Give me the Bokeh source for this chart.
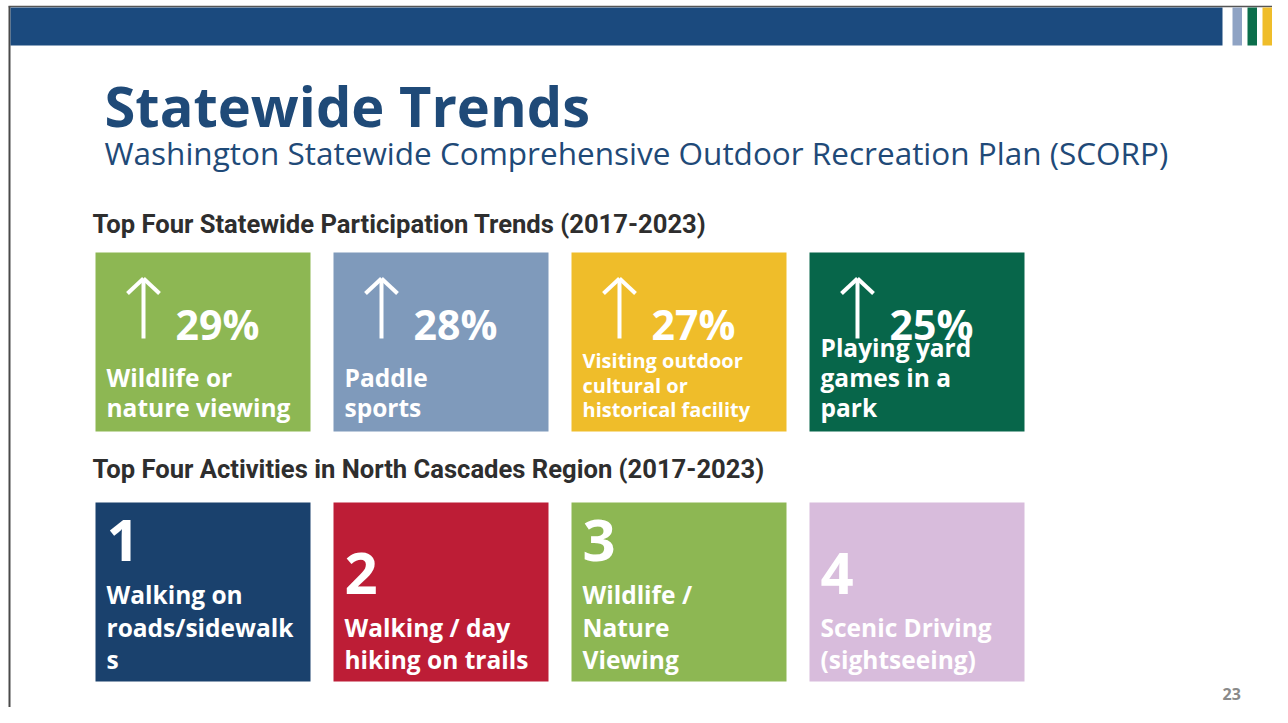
from bokeh.plotting import figure
from bokeh.models import Range1d, ColumnDataSource
from bokeh.core.properties import value
from bokeh.embed import file_html
from bokeh.resources import INLINE

# ---------------- data ----------------
title_text = "Statewide Trends"
subtitle_text = "Washington Statewide Comprehensive Outdoor Recreation Plan (SCORP)"
heading_trends = "Top Four Statewide Participation Trends (2017-2023)"
heading_activities = "Top Four Activities in North Cascades Region (2017-2023)"
page_number = "23"

trend_pcts = ["29%", "28%", "27%", "25%"]
trend_labels = [
    ["Wildlife or", "nature viewing"],
    ["Paddle", "sports"],
    ["Visiting outdoor", "cultural or", "historical facility"],
    ["Playing yard", "games in a", "park"],
]
trend_colors = ["#8db753", "#7f9abb", "#efbd2a", "#07664a"]

activity_ranks = ["1", "2", "3", "4"]
activity_labels = [
    ["Walking on", "roads/sidewalk", "s"],
    ["Walking / day", "hiking on trails"],
    ["Wildlife /", "Nature", "Viewing"],
    ["Scenic Driving", "(sightseeing)"],
]
activity_colors = ["#1a416d", "#bd1d36", "#8db753", "#d8bcdc"]

accent_colors = ["#8fa3c4", "#0b6e4b", "#efbd2a"]

# ---------------- styles / layout ----------------
W, H = 1272, 707
FONT = "Open Sans"
NAVY = "#1f4a78"

TILE_LEFT0, TILE_STEP, TILE_W = 95, 238, 215
ROW1_TOP, ROW1_BOT = 252, 431
ROW2_TOP, ROW2_BOT = 502, 681

trend_label_size = [24.5, 24.5, 20, 24.5]
trend_label_step = [30, 30, 24.5, 30]
activity_label_size = 24.5
activity_label_step = 32.5


def base(y, size, k=0.39):
    """convert a desired alphabetic baseline to the anchor used by the renderer"""
    return y - k * size


p = figure(width=W, height=H, x_range=Range1d(0, W), y_range=Range1d(H, 0),
           x_axis_type=None, y_axis_type=None, output_backend="svg", toolbar_location=None,
           min_border=0, outline_line_color=None)
p.grid.visible = False
p.background_fill_color = "white"
p.border_fill_color = "white"

# slide frame lines
p.segment(x0=[8], y0=[6], x1=[W], y1=[6], line_color="#555555", line_width=1.5)
p.segment(x0=[9], y0=[6], x1=[9], y1=[H], line_color="#4a4a4a", line_width=2)

# header bar and accent stripes
p.quad(left=[10], right=[1222], top=[7], bottom=[45], fill_color="#1b4a7e", line_color=None)
stripe_left = [1232, 1247, 1262]
p.quad(left=stripe_left, right=[s + 9.5 for s in stripe_left], top=[7] * 3, bottom=[45] * 3,
       fill_color=accent_colors, line_color=None)

# titles
p.text(x=[104], y=[base(126, 56)], text=[title_text], text_font=value(FONT), text_font_style="bold",
       text_font_size="56px", text_color=NAVY, text_baseline="alphabetic")
p.text(x=[104], y=[base(164, 31.5)], text=[subtitle_text], text_font=value(FONT),
       text_font_size="31.5px", text_color=NAVY, text_baseline="alphabetic")
p.text(x=[92], y=[base(232, 25.6, 0.32)], text=[heading_trends], text_font=value("Roboto"),
       text_font_style="bold", text_font_size="25.6px", text_color="#2e2e2e", text_baseline="alphabetic")
p.text(x=[92], y=[base(477, 25.6, 0.32)], text=[heading_activities], text_font=value("Roboto"),
       text_font_style="bold", text_font_size="25.6px", text_color="#2e2e2e", text_baseline="alphabetic")
p.text(x=[1222], y=[base(700, 16)], text=[page_number], text_font=value(FONT), text_font_style="bold",
       text_font_size="16px", text_color="#8a8a8a", text_baseline="alphabetic")

# ---------------- row 1: trends ----------------
lefts = [TILE_LEFT0 + i * TILE_STEP for i in range(len(trend_pcts))]
p.quad(left=lefts, right=[l + TILE_W for l in lefts], top=[ROW1_TOP] * 4, bottom=[ROW1_BOT] * 4,
       fill_color=trend_colors, line_color=None)

# arrows
ax = [l + 48 for l in lefts]
p.segment(x0=ax, y0=[279] * 4, x1=ax, y1=[338] * 4, line_color="white", line_width=4)
p.segment(x0=ax, y0=[278] * 4, x1=[a - 16 for a in ax], y1=[293] * 4, line_color="white", line_width=4)
p.segment(x0=ax, y0=[278] * 4, x1=[a + 16 for a in ax], y1=[293] * 4, line_color="white", line_width=4)

p.text(x=[l + 80 for l in lefts], y=[base(339, 41)] * 4, text=trend_pcts, text_font=value(FONT),
       text_font_style="bold", text_font_size="41px", text_color="white", text_baseline="alphabetic")

for i, lines in enumerate(trend_labels):
    n = len(lines)
    ys = [base(417 - (n - 1 - k) * trend_label_step[i], trend_label_size[i]) for k in range(n)]
    src = ColumnDataSource(dict(x=[lefts[i] + 11] * n, y=ys, t=lines))
    p.text(x="x", y="y", text="t", source=src, text_font=value(FONT), text_font_style="bold",
           text_font_size=f"{trend_label_size[i]}px", text_color="white", text_baseline="alphabetic")

# ---------------- row 2: activities ----------------
p.quad(left=lefts, right=[l + TILE_W for l in lefts], top=[ROW2_TOP] * 4, bottom=[ROW2_BOT] * 4,
       fill_color=activity_colors, line_color=None)

rank_x, rank_y = [], []
for i, lines in enumerate(activity_labels):
    n = len(lines)
    bl = [669 - (n - 1 - k) * activity_label_step for k in range(n)]
    rank_x.append(lefts[i] + 11)
    rank_y.append(base(bl[0] - 41, 58))
    src = ColumnDataSource(dict(x=[lefts[i] + 11] * n, y=[base(b, activity_label_size) for b in bl], t=lines))
    p.text(x="x", y="y", text="t", source=src, text_font=value(FONT), text_font_style="bold",
           text_font_size=f"{activity_label_size}px", text_color="white", text_baseline="alphabetic")

p.text(x=rank_x, y=rank_y, text=activity_ranks, text_font=value(FONT), text_font_style="bold",
       text_font_size="58px", text_color="white", text_baseline="alphabetic")

open("out.html", "w").write(file_html(p, INLINE))
